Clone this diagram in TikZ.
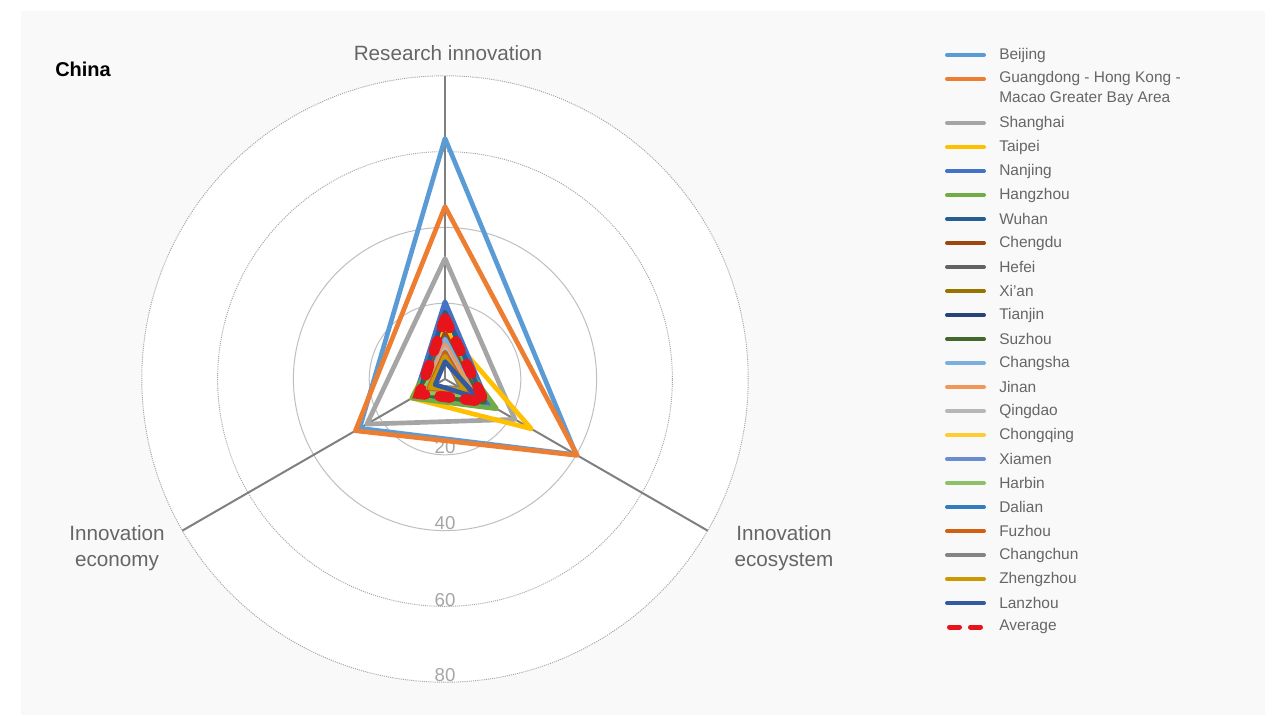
\documentclass[tikz,border=0pt]{standalone}
\usepackage{fontspec}
\setmainfont{Liberation Sans}
\definecolor{bgc}{HTML}{F9F9F9}
\definecolor{txt}{HTML}{666666}
\definecolor{scl}{HTML}{A6A6A6}
\definecolor{ringc}{HTML}{BFBFBF}
\definecolor{axc}{HTML}{808080}
\definecolor{cBeijing}{HTML}{5B9BD5}
\definecolor{cGuangdong}{HTML}{ED7D31}
\definecolor{cShanghai}{HTML}{A5A5A5}
\definecolor{cTaipei}{HTML}{FFC000}
\definecolor{cNanjing}{HTML}{4472C4}
\definecolor{cHangzhou}{HTML}{70AD47}
\definecolor{cWuhan}{HTML}{255E91}
\definecolor{cChengdu}{HTML}{9E480E}
\definecolor{cHefei}{HTML}{636363}
\definecolor{cXian}{HTML}{997300}
\definecolor{cTianjin}{HTML}{264478}
\definecolor{cSuzhou}{HTML}{43682B}
\definecolor{cChangsha}{HTML}{7CAFDD}
\definecolor{cJinan}{HTML}{F1975A}
\definecolor{cQingdao}{HTML}{B7B7B7}
\definecolor{cChongqing}{HTML}{FFCD33}
\definecolor{cXiamen}{HTML}{698ED0}
\definecolor{cHarbin}{HTML}{8CC168}
\definecolor{cDalian}{HTML}{327DC2}
\definecolor{cFuzhou}{HTML}{D26012}
\definecolor{cChangchun}{HTML}{848484}
\definecolor{cZhengzhou}{HTML}{CC9A00}
\definecolor{cLanzhou}{HTML}{335AA1}
\definecolor{cAverage}{HTML}{E8141C}
\newcommand\radtri[4]{\draw[ser,#1] (90:{#2*3.79}) -- (-30:{#3*3.79}) -- (210:{#4*3.79}) -- cycle;}
\tikzset{
  ser/.style={line width=3.5pt, line join=round},
  avgser/.style={line width=8pt, line cap=round, dash pattern=on 8pt off 11pt, color=cAverage},
  axisline/.style={draw=axc, line width=1.5pt},
  solidring/.style={draw=ringc, line width=0.75pt},
  dotring/.style={draw=scl, line width=0.7pt, dash pattern=on 0.8pt off 0.8pt},
  axlabel/.style={text=txt, font=\fontsize{15.5}{19.5}\selectfont, align=center, inner sep=0pt},
  scalelabel/.style={text=scl, font=\fontsize{14}{16}\selectfont, inner sep=0pt},
  legtext/.style={text=txt, font=\fontsize{11.6}{15}\selectfont, anchor=west, align=left, inner sep=0pt},
  legline/.style={line width=3pt, line cap=round},
}
\begin{document}
\begin{tikzpicture}[x=0.75pt,y=-0.75pt]
\useasboundingbox (0,0) rectangle (1280,715);
\fill[bgc] (21,11) rectangle (1265,715);
\node[anchor=west, inner sep=0pt, font=\fontsize{15}{17}\selectfont\bfseries] (title) at (55,69) {China};
\begin{scope}[shift={(445,379)}, x=0.75pt, y=0.75pt]
  \coordinate (O) at (0,0);
  \fill[white] (O) circle (303);
  \draw[solidring] (O) circle (75.8);
  \draw[solidring] (O) circle (151.6);
  \draw[dotring] (O) circle (227.4);
  \draw[dotring] (O) circle (303.2);
  \coordinate (axR) at (90:303.2);
  \coordinate (axE) at (-30:303.2);
  \coordinate (axC) at (210:303.2);
  \draw[axisline] (O) -- (axR);
  \draw[axisline] (O) -- (axE);
  \draw[axisline] (O) -- (axC);
  \node[scalelabel] (s20) at (0,-68) {20};
  \node[scalelabel] (s40) at (0,-144) {40};
  \node[scalelabel] (s60) at (0,-221) {60};
  \node[scalelabel] (s80) at (0,-296) {80};
  \radtri{cBeijing}{63.5}{40}{26}
  \radtri{cGuangdong}{45.5}{40.3}{27.3}
  \radtri{cShanghai}{31.8}{21.3}{23.8}
  \radtri{cTaipei}{13}{26.3}{10.1}
  \radtri{cNanjing}{20.4}{13.2}{9.1}
  \radtri{cHangzhou}{11}{15.7}{10.1}
  \radtri{cWuhan}{17.7}{12}{8}
  \radtri{cChengdu}{12}{10}{7}
  \radtri{cHefei}{11}{9}{6}
  \radtri{cXian}{10}{9}{6}
  \radtri{cTianjin}{10}{8}{7}
  \radtri{cSuzhou}{9}{12}{8}
  \radtri{cChangsha}{10.5}{9}{6}
  \radtri{cJinan}{9}{9}{6}
  \radtri{cQingdao}{8}{7}{5}
  \radtri{cChongqing}{6}{8}{5}
  \radtri{cXiamen}{7}{7}{5}
  \radtri{cHarbin}{6}{9}{7}
  \radtri{cDalian}{7}{6}{4.5}
  \radtri{cFuzhou}{7}{7}{5}
  \radtri{cChangchun}{6}{5}{4}
  \radtri{cZhengzhou}{6}{6}{4.5}
  \radtri{cLanzhou}{4.6}{10}{3}
  \draw[avgser] (90:{16*3.79}) -- (-30:{12*3.79}) -- (210:{7.8*3.79}) -- cycle;
\end{scope}
\node[axlabel] (labR) at (448,53) {Research innovation};
\node[axlabel] (labC) at (117,548) {Innovation\\economy};
\node[axlabel] (labE) at (784,548) {Innovation\\ecosystem};
% legend
\foreach \nm/\cl/\yy [count=\i] in {Beijing/cBeijing/55, Shanghai/cShanghai/123, Taipei/cTaipei/147, Nanjing/cNanjing/171, Hangzhou/cHangzhou/195, Wuhan/cWuhan/219, Chengdu/cChengdu/243, Hefei/cHefei/267, Xi'an/cXian/291, Tianjin/cTianjin/315, Suzhou/cSuzhou/339, Changsha/cChangsha/363, Jinan/cJinan/387, Qingdao/cQingdao/411, Chongqing/cChongqing/435, Xiamen/cXiamen/459, Harbin/cHarbin/483, Dalian/cDalian/507, Fuzhou/cFuzhou/531, Changchun/cChangchun/555, Zhengzhou/cZhengzhou/579, Lanzhou/cLanzhou/603} {
  \coordinate (la\i) at (947,\yy);
  \coordinate (lb\i) at (984,\yy);
  \draw[legline, \cl] (la\i) -- (lb\i);
  \node[legtext] (lt\i) at (999,\yy) {\nm};
}
\coordinate (gA) at (947,79);
\coordinate (gB) at (984,79);
\draw[legline, cGuangdong] (gA) -- (gB);
\node[legtext, anchor=north west] (gT) at (999,71) {Guangdong - Hong Kong -\\Macao Greater Bay Area};
\coordinate (avA) at (949.5,627);
\coordinate (avB) at (981,627);
\draw[cAverage, line width=3.75pt, line cap=round, dash pattern=on 7.5pt off 8.25pt] (avA) -- (avB);
\node[legtext] (avT) at (999,627) {Average};
\end{tikzpicture}
\end{document}
